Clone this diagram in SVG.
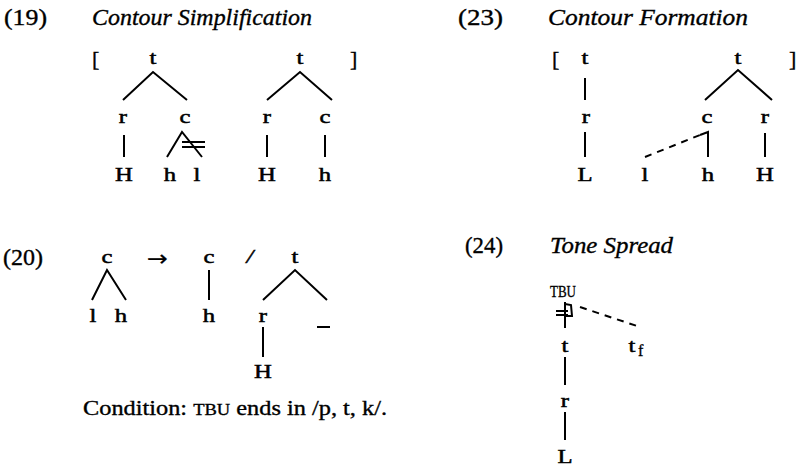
<svg xmlns="http://www.w3.org/2000/svg" width="799" height="468" viewBox="0 0 799 468">
<style>
text{font-family:"Liberation Serif","Times New Roman",serif;fill:#000;stroke:#000;stroke-width:0.35}
.num{font-size:23px}
.ttl{font-size:23px;font-style:italic}
.n{font-size:19px;text-anchor:middle;stroke-width:0.5;transform-box:fill-box;transform-origin:center;transform:scaleX(1.3)}
.br{font-size:22px}
.sm{font-size:16px}
.tbu{font-size:17px}
.cond{font-size:21px}
.arr{font-family:"DejaVu Sans",sans-serif;font-size:22px;text-anchor:middle;stroke-width:0.2}
line,path{stroke:#000;stroke-width:2;fill:none}
.dash{stroke-dasharray:7,6}
</style>
<rect width="799" height="468" fill="#fff"/>

<g id="ex19">
<text class="num" x="4" y="25" textLength="43" lengthAdjust="spacingAndGlyphs">(19)</text>
<text class="ttl" x="92" y="25" textLength="220" lengthAdjust="spacingAndGlyphs">Contour Simplification</text>
<text class="br" x="92" y="66">[</text>
<text class="br" x="350" y="66">]</text>
<g id="n19-t1"><text class="n" x="153" y="64">t</text></g>
<g id="n19-r1"><text class="n" x="123" y="123">r</text></g>
<g id="n19-c1"><text class="n" x="185" y="123">c</text></g>
<g id="n19-H1"><text class="n" x="124" y="181">H</text></g>
<g id="n19-h1"><text class="n" x="170" y="181">h</text></g>
<g id="n19-l1"><text class="n" x="197" y="181">l</text></g>
<g id="n19-t2"><text class="n" x="300" y="64">t</text></g>
<g id="n19-r2"><text class="n" x="267" y="123">r</text></g>
<g id="n19-c2"><text class="n" x="325" y="123">c</text></g>
<g id="n19-H2"><text class="n" x="267" y="181">H</text></g>
<g id="n19-h2"><text class="n" x="325" y="181">h</text></g>
</g>

<g id="ex23">
<text class="num" x="458" y="25" textLength="45" lengthAdjust="spacingAndGlyphs">(23)</text>
<text class="ttl" x="548" y="25" textLength="200" lengthAdjust="spacingAndGlyphs">Contour Formation</text>
<text class="br" x="552" y="66">[</text>
<text class="br" x="789" y="66">]</text>
<g id="n23-t1"><text class="n" x="585" y="64">t</text></g>
<g id="n23-r1"><text class="n" x="586" y="123">r</text></g>
<g id="n23-L"><text class="n" x="585" y="181">L</text></g>
<g id="n23-t2"><text class="n" x="738" y="64">t</text></g>
<g id="n23-c"><text class="n" x="707" y="123">c</text></g>
<g id="n23-r2"><text class="n" x="765" y="123">r</text></g>
<g id="n23-l"><text class="n" x="645" y="181">l</text></g>
<g id="n23-h"><text class="n" x="708" y="181">h</text></g>
<g id="n23-H"><text class="n" x="765" y="181">H</text></g>
</g>

<g id="ex20">
<text class="num" x="3" y="265" textLength="40" lengthAdjust="spacingAndGlyphs">(20)</text>
<g id="n20-c1"><text class="n" x="107" y="263">c</text></g>
<g id="n20-l"><text class="n" x="93" y="322">l</text></g>
<g id="n20-h1"><text class="n" x="121" y="322">h</text></g>
<text class="arr" x="157.500" y="266" textLength="21" lengthAdjust="spacingAndGlyphs">→</text>
<g id="n20-c2"><text class="n" x="209" y="263">c</text></g>
<g id="n20-h2"><text class="n" x="209" y="322">h</text></g>
<text class="n" x="250" y="263" font-style="italic">/</text>
<g id="n20-t"><text class="n" x="295" y="263">t</text></g>
<g id="n20-r"><text class="n" x="263" y="322">r</text></g>
<line x1="317" y1="327" x2="330" y2="327"/>
<g id="n20-H"><text class="n" x="263" y="378">H</text></g>
<text class="cond" x="83" y="415" textLength="304" lengthAdjust="spacingAndGlyphs">Condition: <tspan font-size="16">TBU</tspan> ends in /p, t, k/.</text>
</g>

<g id="ex24">
<text class="num" x="465" y="253" textLength="38" lengthAdjust="spacingAndGlyphs">(24)</text>
<text class="ttl" x="550" y="253" textLength="123" lengthAdjust="spacingAndGlyphs">Tone Spread</text>
<g id="n24-TBU"><text class="tbu" x="550" y="297" textLength="26" lengthAdjust="spacingAndGlyphs">TBU</text></g>
<g id="n24-t"><text class="n" x="565" y="352">t</text></g>
<g id="n24-tf"><text class="n" x="632" y="352">t</text><text class="sm" x="638" y="356">f</text></g>
<g id="n24-r"><text class="n" x="565" y="407">r</text></g>
<g id="n24-L"><text class="n" x="565" y="463">L</text></g>
</g>

<g id="connectors">
<!-- 19 -->
<path d="M123,100 L153,72 L187,100"/>
<line x1="124" y1="135" x2="124" y2="157"/>
<path d="M167,157 L182,132 L202,157"/>
<line x1="182" y1="142" x2="205" y2="142"/>
<line x1="182" y1="147" x2="205" y2="147"/>
<path d="M267,100 L300,72 L332,100"/>
<line x1="267" y1="135" x2="267" y2="157"/>
<line x1="325" y1="135" x2="325" y2="157"/>
<!-- 23 -->
<line x1="585" y1="78" x2="585" y2="100"/>
<line x1="585" y1="132" x2="585" y2="157"/>
<path d="M705,100 L738,70 L772,100"/>
<line class="dash" x1="645" y1="157" x2="700" y2="135"/>
<path d="M700,135 L708,132 L708,157"/>
<line x1="765" y1="133" x2="765" y2="157"/>
<!-- 20 -->
<path d="M92,300 L107,270 L126,300"/>
<line x1="209" y1="270" x2="209" y2="300"/>
<path d="M263,300 L295,270 L327,300"/>
<line x1="263" y1="327" x2="263" y2="357"/>
<!-- 24 -->
<line x1="565" y1="302" x2="565" y2="328"/>
<path d="M565,304 L571,305 L572,316 L565,316"/>
<line x1="556" y1="311" x2="568" y2="311"/>
<line x1="556" y1="315" x2="568" y2="315"/>
<line class="dash" x1="580" y1="307" x2="640" y2="327"/>
<line x1="565" y1="357" x2="565" y2="385"/>
<line x1="565" y1="412" x2="565" y2="440"/>
</g>
</svg>
